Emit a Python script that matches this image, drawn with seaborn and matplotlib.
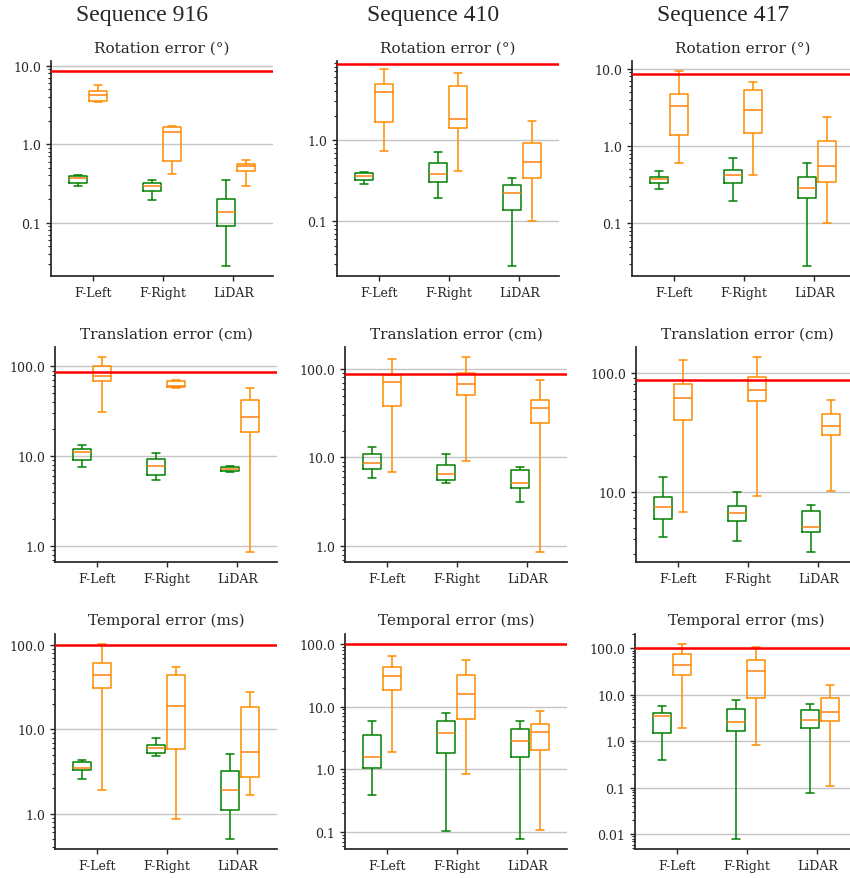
import matplotlib
matplotlib.use('Agg')
import numpy as np
import pandas as pd
import seaborn as sns
import matplotlib.pyplot as plt
from matplotlib.ticker import FuncFormatter, NullFormatter

sensors = ['F-Left', 'F-Right', 'LiDAR']
sequences = ['Sequence 916', 'Sequence 410', 'Sequence 417']
metrics = ['Rotation error (°)', 'Translation error (cm)', 'Temporal error (ms)']
thresholds = [8.66, 86.6, 100.0]
groups = ['green', 'orange']

# box stats per sensor: [whisker low, q1, median, q3, whisker high]
rot_916_green = [[0.295, 0.323, 0.371, 0.393, 0.407], [0.196, 0.25, 0.297, 0.323, 0.345], [0.0278, 0.091, 0.138, 0.199, 0.35]]
rot_916_orange = [[3.45, 3.55, 4.26, 4.85, 5.63], [0.42, 0.617, 1.45, 1.68, 1.71], [0.295, 0.45, 0.53, 0.552, 0.639]]
rot_410_green = [[0.292, 0.327, 0.36, 0.391, 0.403], [0.196, 0.303, 0.384, 0.525, 0.705], [0.0281, 0.138, 0.226, 0.284, 0.346]]
rot_410_orange = [[0.745, 1.68, 3.95, 4.91, 7.53], [0.418, 1.39, 1.8, 4.69, 6.65], [0.101, 0.346, 0.535, 0.927, 1.73]]
rot_417_green = [[0.277, 0.331, 0.372, 0.399, 0.472], [0.196, 0.331, 0.423, 0.486, 0.7], [0.0279, 0.212, 0.285, 0.399, 0.61]]
rot_417_orange = [[0.61, 1.41, 3.27, 4.77, 9.42], [0.419, 1.48, 2.91, 5.37, 6.73], [0.101, 0.344, 0.547, 1.18, 2.41]]

trans_916_green = [[7.5, 9.03, 11.1, 12.05, 13.2], [5.43, 6.16, 7.82, 9.26, 10.8], [6.66, 6.88, 7.18, 7.5, 7.69]]
trans_916_orange = [[31.0, 69.4, 77.4, 101.6, 128.0], [57.0, 58.5, 60.0, 69.0, 71.0], [0.851, 18.6, 27.5, 41.7, 57.0]]
trans_410_green = [[5.81, 7.46, 8.71, 10.9, 13.2], [5.15, 5.57, 6.56, 8.2, 10.9], [3.13, 4.57, 5.2, 7.2, 7.72]]
trans_410_orange = [[6.79, 38.6, 70.6, 85.3, 129.0], [9.1, 51.3, 67.6, 90.6, 137.0], [0.853, 24.7, 36.1, 45.1, 75.7]]
trans_417_green = [[4.15, 5.91, 7.39, 9.03, 13.2], [3.87, 5.69, 6.63, 7.54, 9.87], [3.11, 4.57, 5.1, 6.94, 7.74]]
trans_417_orange = [[6.76, 40.2, 61.4, 80.4, 128.0], [9.14, 58.0, 72.1, 91.4, 136.0], [10.1, 29.8, 35.6, 44.6, 59.4]]

temp_916_green = [[2.59, 3.31, 3.49, 4.15, 4.34], [4.89, 5.21, 6.07, 6.59, 7.83], [0.498, 1.1, 1.91, 3.25, 5.17]]
temp_916_orange = [[1.92, 30.8, 44.2, 61.8, 104.0], [0.857, 5.86, 19.2, 44.6, 55.0], [1.65, 2.71, 5.4, 18.4, 27.6]]
temp_410_green = [[0.394, 1.05, 1.58, 3.48, 5.88], [0.106, 1.83, 3.79, 5.88, 7.78], [0.0774, 1.6, 2.87, 4.45, 5.88]]
temp_410_orange = [[1.9, 18.4, 31.1, 43.3, 63.8], [0.85, 6.4, 15.7, 31.8, 55.1], [0.11, 2.04, 3.89, 5.2, 8.57]]
temp_417_green = [[0.398, 1.48, 3.43, 4.05, 5.9], [0.00782, 1.66, 2.55, 5.09, 7.94], [0.0769, 1.96, 2.91, 4.77, 6.31]]
temp_417_orange = [[1.93, 26.4, 44.7, 76.9, 126.0], [0.849, 8.63, 32.7, 55.3, 107.0], [0.109, 2.77, 4.33, 8.48, 16.4]]

panels = [
    [(rot_916_green, rot_916_orange), (rot_410_green, rot_410_orange), (rot_417_green, rot_417_orange)],
    [(trans_916_green, trans_916_orange), (trans_410_green, trans_410_orange), (trans_417_green, trans_417_orange)],
    [(temp_916_green, temp_916_orange), (temp_410_green, temp_410_orange), (temp_417_green, temp_417_orange)],
]


def to_long(green, orange):
    rows = []
    for grp, stats in zip(groups, (green, orange)):
        for s, vals in zip(sensors, stats):
            for v in vals:
                rows.append((s, grp, v))
    return pd.DataFrame(rows, columns=['sensor', 'group', 'value'])


def fmt(v, pos):
    return f'{v:.1f}' if v >= 0.1 else f'{v:g}'


sns.set_theme(style='ticks')
plt.rcParams['font.family'] = ['DejaVu Serif']

W, H = 850, 879
fig = plt.figure(figsize=(W / 100, H / 100), dpi=100)

# axes boxes in pixels: left per row/col, top per row
lefts = [[51, 337, 632], [55, 345, 636], [55, 345, 635]]
tops = [62, 348, 635]
aw, ah = 222, 215

for r in range(3):
    for c in range(3):
        ax = fig.add_axes([lefts[r][c] / W, 1 - (tops[r] + ah) / H, aw / W, ah / H])
        green, orange = panels[r][c]
        df = to_long(green, orange)
        sns.boxplot(data=df, x='sensor', y='value', hue='group', order=sensors,
                    hue_order=groups, palette={'green': 'green', 'orange': 'darkorange'},
                    fill=False, width=0.54, gap=0.12, whis=(0, 100), linewidth=1.1,
                    medianprops={'color': '#ff7f0e'}, log_scale=True, legend=False, ax=ax)
        ax.axhline(thresholds[r], color='red', lw=1.8, zorder=3)
        if (r, c) == (0, 1):
            ax.set_ylim(0.0213, 9.4)
        ax.set_xlim(-0.5, 2.5)
        ax.set_xticks(np.arange(3) * 0.95 + 0.065)
        ax.set_xticklabels(sensors)
        ax.yaxis.set_major_formatter(FuncFormatter(fmt))
        ax.yaxis.set_minor_formatter(NullFormatter())
        ax.yaxis.grid(True, which='major', color='#c4c4c4', lw=1)
        ax.set_axisbelow(True)
        ax.tick_params(labelsize=9, length=3.5, width=1)
        ax.tick_params(which='minor', length=2, width=0.8)
        ax.set_xlabel('')
        ax.set_ylabel('')
        ax.set_title(metrics[r], fontsize=11, pad=7)
        sns.despine(ax=ax)

for x, t in zip([142, 433, 723], sequences):
    fig.text(x / W, 1 - 15 / H, t, ha='center', va='center', fontsize=17, family=['Liberation Serif', 'DejaVu Serif'])

fig.savefig('out.png', dpi=100)
